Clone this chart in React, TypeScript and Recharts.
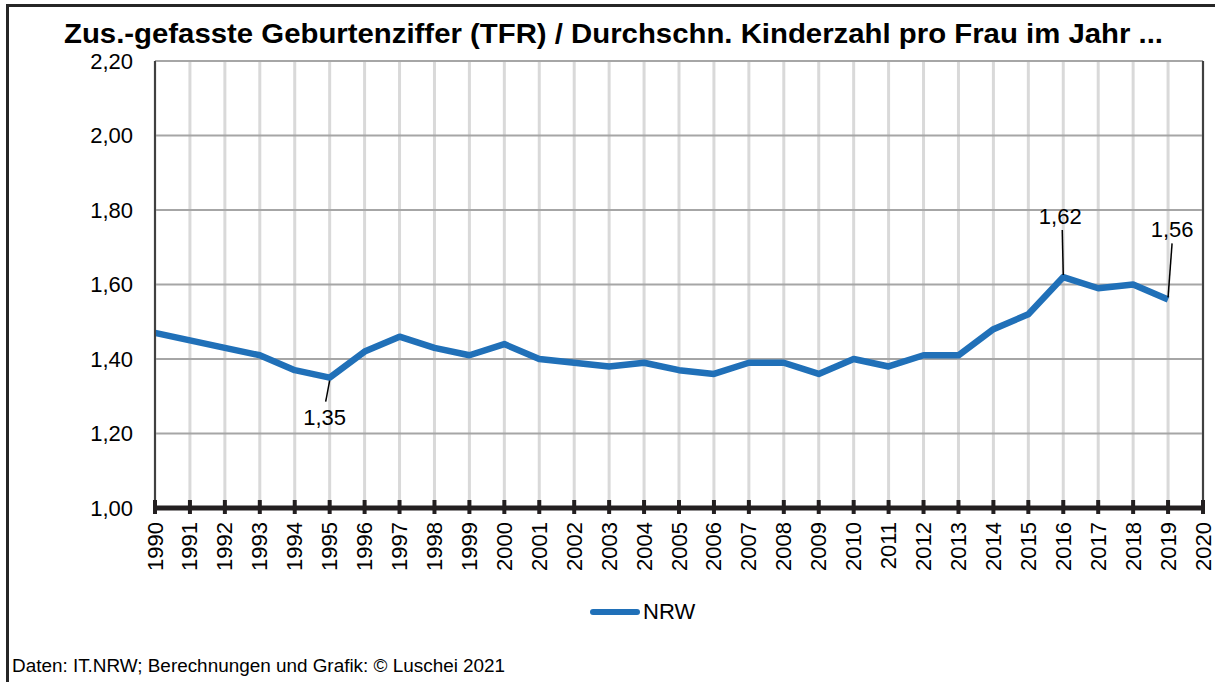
import React from "react";
import { LineChart, Line, XAxis, YAxis, CartesianGrid, ReferenceLine, LabelList } from "recharts";

const years = [1990, 1991, 1992, 1993, 1994, 1995, 1996, 1997, 1998, 1999, 2000, 2001, 2002, 2003, 2004, 2005, 2006, 2007, 2008, 2009, 2010, 2011, 2012, 2013, 2014, 2015, 2016, 2017, 2018, 2019];
const tfrNRW = [1.47, 1.45, 1.43, 1.41, 1.37, 1.35, 1.42, 1.46, 1.43, 1.41, 1.44, 1.40, 1.39, 1.38, 1.39, 1.37, 1.36, 1.39, 1.39, 1.36, 1.40, 1.38, 1.41, 1.41, 1.48, 1.52, 1.62, 1.59, 1.60, 1.56];
const xTicks = [1990, 1991, 1992, 1993, 1994, 1995, 1996, 1997, 1998, 1999, 2000, 2001, 2002, 2003, 2004, 2005, 2006, 2007, 2008, 2009, 2010, 2011, 2012, 2013, 2014, 2015, 2016, 2017, 2018, 2019, 2020];
const yTicks = [1.0, 1.2, 1.4, 1.6, 1.8, 2.0, 2.2];
const labelledYears = [1995, 2016, 2019];

const TITLE = "Zus.-gefasste Geburtenziffer (TFR) / Durchschn. Kinderzahl pro Frau im Jahr ...";
const FOOTER = "Daten: IT.NRW; Berechnungen und Grafik: © Luschei 2021";
const SERIES = "NRW";

const data = years.map((y, i) => ({ year: y, tfr: tfrNRW[i] }));

const FONT = "'Liberation Sans', Arial, sans-serif";
const BLUE = "#2070B8";

const fmt = (v: number) => v.toFixed(2).replace(".", ",");

const XTick = (props: any) => {
  const { x, y, payload } = props;
  return (
    <g>
      <line x1={x} x2={x} y1={y - 8} y2={y + 6} stroke="#231f20" strokeWidth={4} />
      <text
        x={x}
        y={y + 14}
        transform={`rotate(-90, ${x}, ${y + 14})`}
        textAnchor="end"
        dominantBaseline="central"
        fontFamily={FONT}
        fontSize={22}
        fill="#000"
      >
        {payload.value}
      </text>
    </g>
  );
};

const YTick = (props: any) => {
  const { x, y, payload } = props;
  return (
    <text x={x - 22} y={y} textAnchor="end" dominantBaseline="central" fontFamily={FONT} fontSize={22} fill="#000">
      {fmt(payload.value)}
    </text>
  );
};

const labelOffsets: Record<number, { tx: number; ty: number; l1: [number, number]; l2: [number, number] }> = {
  1995: { tx: -5, ty: 40, l1: [0, 3], l2: [-4, 24] },
  2016: { tx: -3, ty: -61, l1: [0, -2], l2: [-1, -47] },
  2019: { tx: 4, ty: -70, l1: [0, -2], l2: [4, -56] },
};

const PointLabel = (props: any) => {
  const { x, y, value, index } = props;
  const yr = years[index];
  if (!labelledYears.includes(yr)) return null;
  const o = labelOffsets[yr];
  return (
    <g>
      <line x1={x + o.l1[0]} y1={y + o.l1[1]} x2={x + o.l2[0]} y2={y + o.l2[1]} stroke="#000" strokeWidth={1.5} />
      <text x={x + o.tx} y={y + o.ty} textAnchor="middle" dominantBaseline="central" fontFamily={FONT} fontSize={22} fill="#000">
        {fmt(value)}
      </text>
    </g>
  );
};

export default function App() {
  return (
    <div style={{ position: "absolute", left: 0, top: 0, width: 1215, height: 682, background: "#fff", overflow: "hidden" }}>
      <div style={{ position: "absolute", left: 6, top: 4, width: 1230, height: 700, borderTop: "3px solid #262626", borderLeft: "3px solid #262626" }} />
      <svg style={{ position: "absolute", left: 0, top: 0 }} width={1215} height={60}>
        <text x={613.5} y={43} textAnchor="middle" fontFamily={FONT} fontWeight="bold" fontSize={28} fill="#000" textLength={1099} lengthAdjust="spacingAndGlyphs">
          {TITLE}
        </text>
      </svg>
      <div style={{ position: "absolute", left: 0, top: 0 }}>
        <LineChart width={1215} height={682} data={data} margin={{ top: 61, right: 12, left: 0, bottom: 104 }}>
          <CartesianGrid horizontal={false} stroke="#d9d9d9" strokeWidth={3} />
          <CartesianGrid vertical={false} stroke="#a6a6a6" strokeWidth={2} />
          <XAxis
            dataKey="year"
            type="number"
            domain={[1990, 2020]}
            ticks={xTicks}
            interval={0}
            height={70}
            tickSize={0}
            tickMargin={0}
            tick={<XTick />}
            axisLine={{ stroke: "#231f20", strokeWidth: 5 }}
            tickLine={false}
          />
          <YAxis
            domain={[1, 2.2]}
            ticks={yTicks}
            interval={0}
            width={155}
            tickSize={0}
            tickMargin={0}
            tick={<YTick />}
            axisLine={{ stroke: "#404040", strokeWidth: 2 }}
            tickLine={false}
          />
          <ReferenceLine x={2020} stroke="#404040" strokeWidth={2} />
          <Line
            type="linear"
            dataKey="tfr"
            stroke={BLUE}
            strokeWidth={6.5}
            dot={false}
            activeDot={false}
            strokeLinejoin="round"
            isAnimationActive={false}
          >
            <LabelList dataKey="tfr" content={<PointLabel />} />
          </Line>
        </LineChart>
      </div>
      <div style={{ position: "absolute", left: 590, top: 600, display: "flex", alignItems: "center", height: 24 }}>
        <div style={{ width: 50, height: 6, borderRadius: 3, background: BLUE }} />
        <span style={{ fontFamily: FONT, fontSize: 22, color: "#000", marginLeft: 3, lineHeight: "24px" }}>{SERIES}</span>
      </div>
      <div style={{ position: "absolute", left: 12, top: 654, fontFamily: FONT, fontSize: 18.9, color: "#000", whiteSpace: "nowrap", lineHeight: "24px" }}>
        {FOOTER}
      </div>
    </div>
  );
}
